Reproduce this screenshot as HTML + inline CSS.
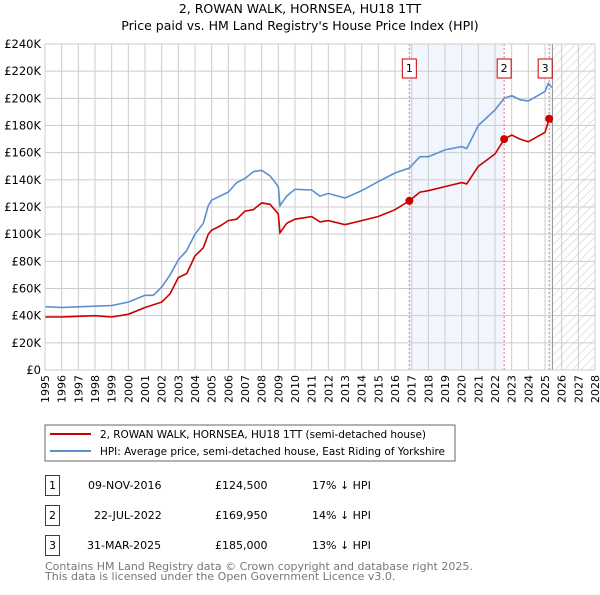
<!DOCTYPE html>
<html><head><meta charset="utf-8"><style>
body{margin:0;background:#fff;font-family:"Liberation Sans","DejaVu Sans",sans-serif;}
svg text{font-family:"DejaVu Sans","Liberation Sans",sans-serif;}
</style></head><body>
<svg id="c" width="600" height="590" xmlns="http://www.w3.org/2000/svg">
<defs><pattern id="h" width="6" height="6" patternUnits="userSpaceOnUse" patternTransform="rotate(45)"><line x1="0" y1="0" x2="0" y2="6" stroke="#bbb" stroke-width="0.8"/></pattern></defs>
<text x="300" y="13" text-anchor="middle" font-size="12.5">2, ROWAN WALK, HORNSEA, HU18 1TT</text>
<text x="300" y="30" text-anchor="middle" font-size="12.5">Price paid vs. HM Land Registry's House Price Index (HPI)</text>
<g id="grid"></g><g id="marks"></g><g id="axes"></g>
<rect x="45" y="425" width="410" height="36" fill="#fff" stroke="#666"/>
<line x1="50" y1="434" x2="91" y2="434" stroke="#cc0000" stroke-width="2"/>
<text x="100" y="438" font-size="10.5" textLength="326">2, ROWAN WALK, HORNSEA, HU18 1TT (semi-detached house)</text>
<line x1="50" y1="451" x2="91" y2="451" stroke="#5b8fd0" stroke-width="2"/>
<text x="100" y="455" font-size="10.5" textLength="345">HPI: Average price, semi-detached house, East Riding of Yorkshire</text>
<g font-size="11">
<rect x="45.5" y="475.5" width="14" height="20" fill="none" stroke="#cc0000"/><text x="52.5" y="489" text-anchor="middle">1</text>
<text x="88" y="489">09-NOV-2016</text><text x="215" y="489">£124,500</text><text x="312" y="489">17% ↓ HPI</text>
<rect x="45.5" y="505.5" width="14" height="20" fill="none" stroke="#cc0000"/><text x="52.5" y="519" text-anchor="middle">2</text>
<text x="94" y="519">22-JUL-2022</text><text x="215" y="519">£169,950</text><text x="312" y="519">14% ↓ HPI</text>
<rect x="45.5" y="535.5" width="14" height="20" fill="none" stroke="#cc0000"/><text x="52.5" y="549" text-anchor="middle">3</text>
<text x="87" y="549">31-MAR-2025</text><text x="215" y="549">£185,000</text><text x="312" y="549">13% ↓ HPI</text>
</g>
<text x="45" y="570" font-size="11" fill="#777">Contains HM Land Registry data © Crown copyright and database right 2025.</text>
<text x="45" y="580" font-size="11" fill="#777">This data is licensed under the Open Government Licence v3.0.</text>
</svg>
<script>
const hpiYears=[1995,1996,1997,1998,1999,2000,2001,2001.5,2002,2002.5,2003,2003.5,2004,2004.5,2004.8,2005,2005.5,2006,2006.5,2007,2007.5,2008,2008.5,2009,2009.1,2009.5,2010,2011,2011.5,2012,2013,2014,2015,2016,2016.85,2017.5,2018,2019,2020,2020.3,2021,2022,2022.55,2023,2023.5,2024,2025,2025.2,2025.4];
const hpiValues=[46.6,46,46.5,47,47.5,50,55,55,61,70,81,88,100,108,121,125,128,131,138,141,146,147,143,135,121,128,133,132.5,128,130,126.6,132,138.7,145,148.7,157,157,162,164.5,163,180,191.5,200,202,199,198,205,211,208];
const priceYears=[1995,1996,1997,1998,1999,2000,2001,2002,2002.5,2003,2003.5,2004,2004.5,2004.8,2005,2005.5,2006,2006.5,2007,2007.5,2008,2008.5,2009,2009.1,2009.5,2010,2011,2011.5,2012,2013,2014,2015,2016,2016.85,2017.5,2018,2019,2020,2020.3,2021,2022,2022.55,2023,2023.5,2024,2025,2025.25,2025.4];
const priceValues=[39,39,39.5,40,39,41,46,50,56,68,71,84,90,100,103,106,110,111,117,118,123,122,115,101,108,111,112.9,109,110,107,110,113,118,124.5,131,132,135,138,137,150,159,169.95,173,170,168,175,185,182];
const saleYears=[2016.86,2022.55,2025.25];
const saleValues=[124.5,169.95,185];
const saleLabels=["1","2","3"];
const yTicks=[0,20,40,60,80,100,120,140,160,180,200,220,240];
const xTicks=[1995,1996,1997,1998,1999,2000,2001,2002,2003,2004,2005,2006,2007,2008,2009,2010,2011,2012,2013,2014,2015,2016,2017,2018,2019,2020,2021,2022,2023,2024,2025,2026,2027,2028];
const X0=45,X1=595,Y0=370,Y1=44;
const xs=y=>X0+(y-1995)/(2028-1995)*(X1-X0);
const ys=v=>Y0-v/240*(Y0-Y1);
const NS="http://www.w3.org/2000/svg";
function mk(p,t,a){const e=document.createElementNS(NS,t);for(const k in a)e.setAttribute(k,a[k]);p.appendChild(e);return e;}
const grid=document.getElementById('grid'),marks=document.getElementById('marks'),axes=document.getElementById('axes');
let r=mk(grid,'rect',{x:xs(2016.86),y:Y1,width:xs(2022.55)-xs(2016.86),height:Y0-Y1,fill:'#eef3fc',opacity:0.8});


r=mk(grid,'rect',{x:xs(2025.25),y:Y1,width:xs(2025.45)-xs(2025.25),height:Y0-Y1,fill:'#eef3fc'});


r=mk(grid,'rect',{x:xs(2025.45),y:Y1,width:X1-xs(2025.45),height:Y0-Y1,fill:'url(#h)'});


xTicks.forEach(t=>{const l=mk(grid,'line',{x1:xs(t),x2:xs(t),y1:Y1,y2:Y0,stroke:'#ccc'});


const tx=mk(axes,'text',{x:0,y:0,'font-size':11,'text-anchor':'end',transform:`translate(${xs(t)+4},${Y0+5}) rotate(-90)`});tx.textContent=t;

});
yTicks.forEach(t=>{const l=mk(grid,'line',{x1:X0,x2:X1,y1:ys(t),y2:ys(t),stroke:'#ccc'});


const tx=mk(axes,'text',{x:X0-4,y:ys(t)+4,'font-size':11.5,'text-anchor':'end'});tx.textContent=t===0?'£0':'£'+t+'K';

});
let vl=mk(grid,'line',{x1:xs(2025.45),x2:xs(2025.45),y1:Y1,y2:Y0,stroke:'#999'});


saleYears.forEach((s,i)=>{const l=mk(grid,'line',{x1:xs(s),x2:xs(s),y1:Y1,y2:Y0,stroke:'#f07070','stroke-dasharray':'2,2'});

});
function path(xa,va,col,name){const d=xa.map((x,i)=>(i?'L':'M')+xs(x).toFixed(1)+','+ys(va[i]).toFixed(1)).join('');
const p=mk(marks,'path',{d:d,fill:'none',stroke:col,'stroke-width':1.6});

}
path(hpiYears,hpiValues,'#5b8fd0','hpi-line');
path(priceYears,priceValues,'#cc0000','price-paid-line');
saleYears.forEach((s,i)=>{const c=mk(marks,'circle',{cx:xs(s),cy:ys(saleValues[i]),r:4,fill:'#cc0000'});


const bx=xs(s)-7-(i===2?4:0);
const b=mk(marks,'rect',{x:bx,y:59,width:14,height:19,fill:'#fff',stroke:'#cc0000'});


const t=mk(marks,'text',{x:bx+7,y:72,'font-size':11,'text-anchor':'middle'});t.textContent=saleLabels[i];

});
let fr=mk(axes,'rect',{x:X0,y:Y1,width:X1-X0,height:Y0-Y1,fill:'none',stroke:'#ccc'});


</script>
</body></html>
